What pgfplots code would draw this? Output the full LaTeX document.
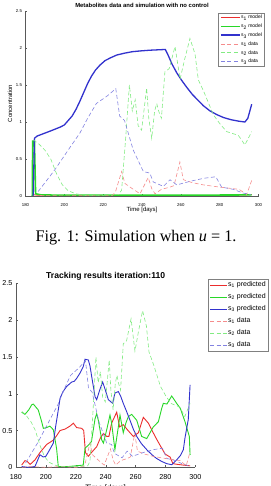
\documentclass[border=0pt]{standalone}
\usepackage{pgfplots}
\pgfplotsset{compat=1.18}
\usepackage{fontspec}
\setmainfont{Liberation Sans}
\newfontfamily\seriffont{Liberation Serif}
\definecolor{mred}{RGB}{235,45,45}
\definecolor{mgreen}{RGB}{40,215,40}
\definecolor{mblue}{RGB}{50,50,205}
\definecolor{dred}{RGB}{245,140,140}
\definecolor{dgreen}{RGB}{130,235,130}
\definecolor{dblue}{RGB}{130,130,225}
\pgfplotsset{mstyle/.style={scale only axis, axis lines*=left,
  axis line style={black!65,-}, tick align=inside, major tick length=2pt,
  tick style={black!65}, xmin=180, xmax=300, ymin=0, ymax=2.5,
  xtick={180,200,...,300}, ytick={0,0.5,1,1.5,2,2.5},
  /pgf/number format/assume math mode=true, legend cell align=left},
  ddash/.style={dash pattern=on 4pt off 2.5pt, line width=0.6pt}}
% experimental data (shared)
\pgfplotstableread{
d v
184 0.0
190 0.01
200 0.0
210 0.01
220 0.0
225 0.01
226.5 0.07
229.5 0.33
231.2 0.17
235.5 0.09
239 0.03
243.2 0.25
245 0.10
246.7 0.03
250 0.09
254.4 0.12
256.5 0.14
259.5 0.46
261.3 0.22
266 0.18
271.6 0.15
280 0.12
290 0.09
293.9 0.02
296.5 0.21
}\sonedata
\pgfplotstableread{
d v
184 0.76
187 0.70
190 0.62
193 0.50
196 0.30
199 0.15
202 0.07
206 0.03
210 0.01
220 0.01
228 0.02
229.5 0.08
231.5 0.75
233.5 1.50
235 1.15
236.5 1.30
238 0.95
239.8 0.89
242.4 1.46
243.5 1.05
245 0.78
246.5 1.15
247.6 1.25
248.4 1.16
250 1.05
251.8 1.68
254 1.72
257 2.02
259.6 1.58
262 1.85
264.7 2.13
267.3 1.92
269 1.57
272 1.40
276.7 1.10
280 0.98
283.6 0.87
289.6 0.82
293 0.69
296.5 0.87
}\stwodata
\pgfplotstableread{
d v
186.5 0.06
195 0.35
203 0.66
208 0.85
212 1.05
216.5 1.25
222 1.35
226.5 1.45
228.5 1.08
231 1.02
235.5 0.62
240.7 0.33
244 0.31
245.8 0.19
251 0.13
254.4 0.22
257.9 0.15
265 0.20
272 0.24
278 0.26
281 0.12
287 0.09
292 0.04
296 0.02
}\sthreedata
\begin{document}
\begin{tikzpicture}
% ---------------- top chart ----------------
\begin{axis}[mstyle, at={(25.5pt,290pt)}, anchor=south west,
  width=233pt, height=185pt,
  tick label style={font=\fontsize{4.3}{5}\selectfont},
  xticklabel style={yshift=-3.5pt},
  title={\textbf{Metabolites data and simulation with no control}},
  title style={font=\fontsize{5.9}{6}\selectfont, at={(axis description cs:0.5,1.0)}, anchor=center},
  xlabel={Time [days]},
  xlabel style={font=\fontsize{6}{6}\selectfont, at={(axis description cs:0.5,-0.075)}, anchor=center},
  ylabel={Concentration},
  ylabel style={font=\fontsize{6}{6}\selectfont, at={(axis description cs:-0.0665,0.5)}, anchor=center},
  legend image post style={xscale=1.11},
  legend style={at={(axis description cs:1.024,0.989)}, anchor=north east,
    font=\fontsize{5}{5}\selectfont, draw=black!50, fill=white,
    inner xsep=1.5pt, inner ysep=1.5pt, row sep=3.2pt,
    nodes={inner sep=0.5pt, text height=3.6pt, text depth=1pt}},
]
\addplot[mred, line width=0.7pt] coordinates {(183.5,0) (184,0.02) (186,0.01) (200,0.005) (240,0.005) (280,0.008) (294,0.015) (296.5,0.02)};
\addlegendentry{s\textsubscript{1} model}
\addplot[mgreen, line width=1.6pt] coordinates {(183.5,0) (183.7,0.74) (184.6,0.74) (185.2,0.03) (188,0.015) (200,0.01) (220,0.01) (260,0.01) (296.5,0.015)};
\addlegendentry{s\textsubscript{2} model}
\addplot[mblue, line width=1.3pt] coordinates {(184.0,0.0) (184.6,0.78) (186,0.81) (189,0.84) (193,0.88) (197.8,0.93) (200,0.96) (202,1.02) (204,1.08) (206,1.17) (208,1.28) (210,1.40) (212,1.52) (214,1.62) (216,1.70) (218.4,1.77) (221,1.83) (224,1.87) (227,1.905) (231,1.93) (235,1.95) (239,1.96) (244,1.97) (248,1.975) (252,1.98) (253.5,1.90) (255.5,1.78) (258,1.66) (260.5,1.56) (263,1.47) (266,1.37) (269,1.29) (271.6,1.22) (275,1.15) (278.5,1.10) (282,1.06) (286,1.03) (290,1.01) (293,1.00) (294.5,1.05) (296.5,1.24)};
\addlegendentry{s\textsubscript{3} model}
\addplot[dred, ddash] table[x=d,y=v] {\sonedata};
\addlegendentry{s\textsubscript{1} data}
\addplot[dgreen, ddash] table[x=d,y=v] {\stwodata};
\addlegendentry{s\textsubscript{2} data}
\addplot[dblue, ddash] table[x=d,y=v] {\sthreedata};
\addlegendentry{s\textsubscript{3} data}
\end{axis}
% caption
\node[font=\seriffont\fontsize{16.2}{17}\selectfont] at (136pt,248pt) {Fig. 1: Simulation when \textit{u} = 1.};
% ---------------- bottom chart ----------------
\begin{axis}[mstyle, at={(16pt,18.7pt)}, anchor=south west,
  width=179.3pt, height=183.8pt,
  tick label style={font=\fontsize{7.2}{8}\selectfont},
  xticklabel style={yshift=-4pt},
  title={\textbf{Tracking results iteration:110}},
  title style={font=\fontsize{8.6}{9}\selectfont, at={(axis description cs:0.5,1.008)}, anchor=center},
  xlabel={Time [days]},
  xlabel style={font=\fontsize{7.9}{8}\selectfont, at={(axis description cs:0.5,-0.115)}, anchor=center},
  legend style={at={(axis description cs:1.405,1.024)}, anchor=north east,
    font=\fontsize{7}{7}\selectfont, draw=black!50, fill=white,
    inner xsep=1.5pt, inner ysep=2pt, row sep=4.5pt,
    nodes={inner sep=0.5pt, text height=5pt, text depth=1.5pt}},
]
\addplot[mred, line width=0.9pt] coordinates {(183.8,0.03) (186,0.09) (187.5,0.08) (189.5,0.04) (192.7,0.10) (196,0.20) (200.5,0.31) (205,0.37) (207.2,0.43) (209.5,0.50) (212.8,0.52) (216.1,0.56) (218.4,0.60) (220.6,0.54) (224,0.53) (225.3,0.50) (226.5,0.20) (228.4,0.15) (230.5,0.20) (234,0.28) (236.5,0.40) (238.5,0.46) (240.7,0.42) (242.2,0.42) (244,0.60) (247.4,0.75) (249.3,0.55) (251.8,0.58) (255,0.50) (258.5,0.42) (261.9,0.47) (265.2,0.68) (268.6,0.60) (273.1,0.42) (276.4,0.30) (279.8,0.18) (283.1,0.14) (285,0.05) (288,0.04) (292,0.03) (296.5,0.02)};
\addlegendentry{s\textsubscript{1} predicted}
\addplot[mgreen, line width=0.9pt] coordinates {(183.8,0.75) (186,0.72) (188.5,0.78) (190.5,0.85) (191.6,0.86) (194.9,0.78) (197.2,0.62) (198.3,0.53) (200.5,0.54) (202.7,0.56) (205,0.51) (207.2,0.25) (208.3,0.01) (215,0.01) (220,0.02) (225,0.03) (226.2,0.26) (228.4,0.30) (230.5,0.35) (232.9,0.66) (234,0.73) (235.1,0.64) (237.4,0.37) (238.5,0.33) (240.7,0.51) (242.9,0.71) (244,0.60) (246.2,0.24) (248.5,0.55) (249.6,0.71) (251.8,0.47) (253.5,0.60) (255.2,0.69) (257.4,0.72) (260.8,0.64) (264.1,0.42) (267.5,0.39) (271.9,0.55) (275.3,0.62) (277.5,0.80) (278.6,0.87) (281,0.86) (284.2,0.97) (287.5,0.87) (290,0.80) (293.1,0.62) (296,0.42) (296.5,0.17)};
\addlegendentry{s\textsubscript{2} predicted}
\addplot[mblue, line width=0.9pt] coordinates {(183.8,0.01) (188,0.0) (192.7,0.01) (196,0.17) (198.3,0.14) (200,0.15) (202,0.22) (205,0.33) (206.5,0.55) (208.3,0.78) (209.5,0.94) (211.5,1.03) (213.9,1.10) (217.3,1.16) (219,1.17) (220.6,1.21) (222.8,1.28) (225,1.37) (226.2,1.47) (228.4,1.46) (229.5,1.38) (230.7,1.23) (232.9,0.96) (234,0.92) (236,1.05) (238,1.16) (239.5,1.07) (241.8,0.92) (244.7,0.87) (246.2,1.01) (248.5,1.03) (250,0.97) (251.8,0.87) (254,0.76) (256.3,0.64) (258.5,0.52) (260.8,0.42) (264,0.32) (267.5,0.24) (271,0.17) (274.1,0.12) (277.5,0.08) (280.8,0.05) (284.2,0.035) (287.5,0.10) (290,0.16) (292,0.24) (293.1,0.40) (295.3,0.65) (296.5,1.12)};
\addlegendentry{s\textsubscript{3} predicted}
\addplot[dred, ddash] table[x=d,y=v] {\sonedata};
\addlegendentry{s\textsubscript{1} data}
\addplot[dgreen, ddash] table[x=d,y=v] {\stwodata};
\addlegendentry{s\textsubscript{2} data}
\addplot[dblue, ddash] table[x=d,y=v] {\sthreedata};
\addlegendentry{s\textsubscript{3} data}
\end{axis}
\pgfresetboundingbox
\path[use as bounding box] (0pt,0pt) rectangle (270pt,486pt);
\end{tikzpicture}
\end{document}
